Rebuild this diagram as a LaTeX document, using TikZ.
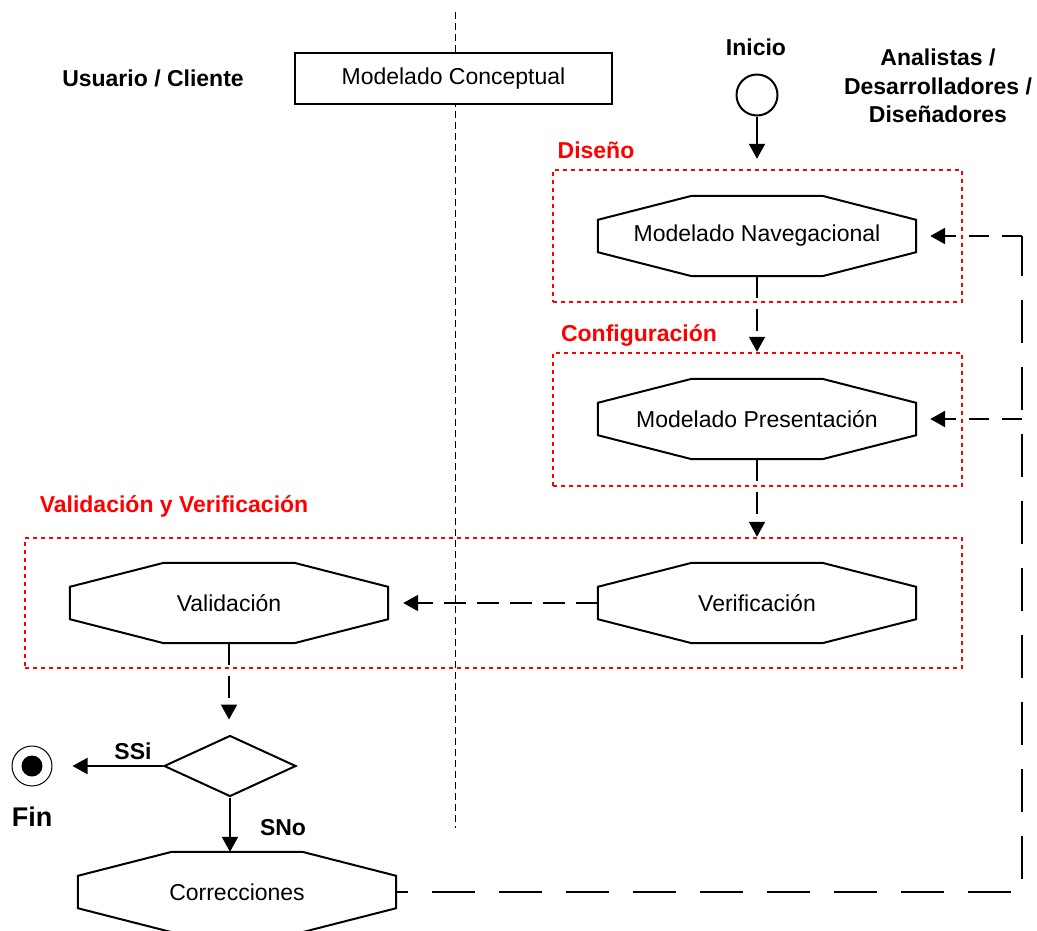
\documentclass[tikz,border=0pt]{standalone}
\usepackage{fontspec}
\setmainfont{Liberation Sans}
\usetikzlibrary{arrows.meta,shapes.geometric}

% Octagonal activity frame drawn around a named node
\newcommand\octoframe[1]{%
  \draw[line width=2pt, line join=miter]
    ([xshift=94pt]#1.north west) -- ([xshift=-94pt]#1.north east)
    -- ([yshift=-24pt]#1.north east) -- ([yshift=24pt]#1.south east)
    -- ([xshift=-94pt]#1.south east) -- ([xshift=94pt]#1.south west)
    -- ([yshift=24pt]#1.south west) -- ([yshift=-24pt]#1.north west) -- cycle;}

\begin{document}
\begin{tikzpicture}[x=1pt,y=-1pt,
  lbl/.style={font=\fontsize{23}{28.5}\selectfont\bfseries, align=center, inner sep=0pt},
  redlbl/.style={lbl, text=red},
  octo/.style={minimum width=318pt, minimum height=80pt, inner sep=0pt,
    font=\fontsize{23}{28}\selectfont},
  redbox/.style={draw=red, line width=2.4pt, dash pattern=on 4pt off 4pt, inner sep=0pt},
  tip/.style={-{Triangle[length=15pt,width=16pt]}},
  flow/.style={line width=2pt, tip},
  shortdash/.style={flow, dash pattern=on 22pt off 11pt},
  feedline/.style={line width=2.6pt, dash pattern=on 43pt off 24pt, dash phase=31pt},
  feedarrow/.style={flow, line width=2.6pt, dash pattern=on 20pt off 13pt},
  divider/.style={line width=1pt, dash pattern=on 7pt off 4pt},
]
\useasboundingbox (0,0) rectangle (1037,930);

% swimlane divider
\coordinate (dtop) at (455,12);
\coordinate (dbot) at (455,828);
\draw[divider] (dtop) -- (dbot);

% lane headers
\node[lbl] (client) at (153,78) {Usuario / Cliente};
\node[draw, fill=white, line width=2pt, minimum width=317pt, minimum height=51pt,
      font=\fontsize{23}{28}\selectfont] (concept) at (453.5,78.5) {Modelado Conceptual};
\node[lbl] (team) at (938,86) {Analistas /\\Desarrolladores /\\Diseñadores};

% start
\node[lbl] (inicio) at (756,47) {Inicio};
\node[circle, draw, line width=2pt, minimum size=41pt, inner sep=0pt] (start) at (757,95) {};

% phase groups
\node[redbox, minimum width=409pt, minimum height=132pt] (boxA) at (757.5,236) {};
\node[redbox, minimum width=409pt, minimum height=133pt] (boxB) at (757.5,419.5) {};
\node[redbox, minimum width=937pt, minimum height=130pt] (boxC) at (493.5,603) {};
\node[redlbl] (labA) at (596,150) {Diseño};
\node[redlbl] (labB) at (639,335) {Configuración};
\node[redlbl] (labC) at (174,506) {Validación y Verificación};

% activities
\node[octo] (nav) at (757,236) {Modelado Navegacional};
\node[octo] (pres) at (757,419) {Modelado Presentación};
\node[octo] (ver) at (757,603) {Verificación};
\node[octo] (val) at (229,603) {Validación};
\node[octo] (corr) at (237,892) {Correcciones};
\octoframe{nav}
\octoframe{pres}
\octoframe{ver}
\octoframe{val}
\octoframe{corr}

% decision and end
\node[diamond, draw, line width=2pt, aspect=2.16, minimum width=132pt,
      minimum height=61pt, inner sep=0pt] (dia) at (230,766) {};
\node[circle, draw, line width=1pt, minimum size=40pt, inner sep=0pt,
      path picture={\fill (path picture bounding box.center) circle (10.5pt);}] (fin) at (32,766) {};
\node[lbl, font=\fontsize{27}{30}\selectfont\bfseries] (finlbl) at (32,817) {Fin};
\node[lbl] (ssi) at (133,751) {SSi};
\node[lbl] (sno) at (283,828) {SNo};

% flow
\draw[flow] (start.south) -- ([yshift=10pt]start.south |- boxA.north);
\draw[shortdash] (nav.south) -- (nav.south |- boxB.north);
\draw[shortdash] (pres.south) -- (pres.south |- boxC.north);
\draw[shortdash, shorten >=15pt] (ver.west) -- (val.east);
\draw[shortdash, shorten >=15pt] (val.south) -- (val.south |- dia.north);
\draw[flow, shorten >=20pt] (dia.west) -- (fin.east);
\draw[flow] (dia.south) -- (dia.south |- corr.north);

% feedback from corrections
\coordinate (rt) at (1022,236);
\draw[feedline] (corr.east) -| (rt);
\draw[feedarrow, shorten >=14pt] (rt) -- (nav.east);
\draw[feedarrow, shorten >=14pt] (pres.east -| rt) -- (pres.east);
\end{tikzpicture}
\end{document}
